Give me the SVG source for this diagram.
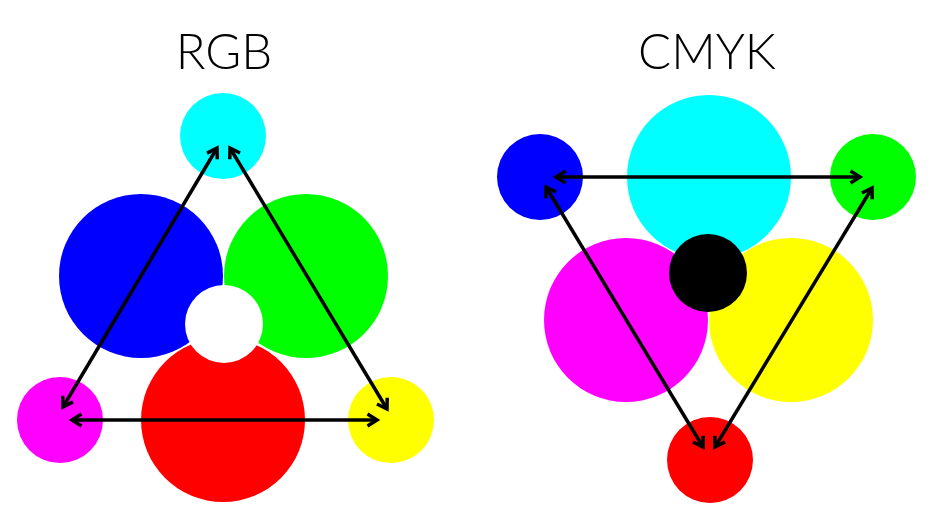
<svg xmlns="http://www.w3.org/2000/svg" width="935" height="525" viewBox="0 0 935 525">
<style>
.title{font-family:"Lato","Liberation Sans",sans-serif;font-weight:300;font-size:49px;fill:#000;text-anchor:middle}
.arr{stroke:#000;stroke-width:3.5;fill:none;marker-start:url(#ah);marker-end:url(#ah)}
</style>
<defs>
<marker id="ah" viewBox="0 0 16 16" refX="12" refY="8" markerWidth="16" markerHeight="16" markerUnits="userSpaceOnUse" orient="auto-start-reverse">
<path d="M2.5,2 L12,8 L2.5,14" fill="none" stroke="#000" stroke-width="3.5" stroke-linejoin="miter"/>
</marker>
</defs>
<rect width="935" height="525" fill="#fff"/>
<g id="rgb">
<text class="title" x="224" y="69">RGB</text>
<g id="rgb-blue"><circle cx="141" cy="276" r="82" fill="#0000ff"/></g>
<g id="rgb-green"><circle cx="306" cy="276" r="82" fill="#00ff00"/></g>
<g id="rgb-red"><circle cx="223" cy="420" r="82" fill="#ff0000"/></g>
<g id="rgb-white"><circle cx="224" cy="324" r="39" fill="#ffffff"/></g>
<g id="rgb-cyan"><circle cx="223" cy="136" r="43" fill="#00ffff"/></g>
<g id="rgb-magenta"><circle cx="60" cy="420" r="43" fill="#ff00ff"/></g>
<g id="rgb-yellow"><circle cx="391" cy="420" r="43" fill="#ffff00"/></g>
</g>
<g id="cmyk">
<text class="title" x="707" y="69">CMYK</text>
<g id="cmyk-cyan"><circle cx="709" cy="177" r="82" fill="#00ffff"/></g>
<g id="cmyk-magenta"><circle cx="626" cy="320" r="82" fill="#ff00ff"/></g>
<g id="cmyk-yellow"><circle cx="791" cy="320" r="82" fill="#ffff00"/></g>
<g id="cmyk-black"><circle cx="708" cy="273" r="39" fill="#000000"/></g>
<g id="cmyk-blue"><circle cx="540" cy="177" r="43" fill="#0000ff"/></g>
<g id="cmyk-green"><circle cx="873" cy="177" r="43" fill="#00ff00"/></g>
<g id="cmyk-red"><circle cx="710" cy="460" r="43" fill="#ff0000"/></g>
</g>
<g id="connectors">
<line class="arr" x1="217" y1="148" x2="63" y2="407"/>
<line class="arr" x1="230" y1="148" x2="387" y2="409"/>
<line class="arr" x1="72" y1="420" x2="377" y2="420"/>
<line class="arr" x1="556" y1="177" x2="860" y2="177"/>
<line class="arr" x1="546" y1="187" x2="703" y2="447"/>
<line class="arr" x1="872" y1="188" x2="715" y2="447"/>
</g>
</svg>
